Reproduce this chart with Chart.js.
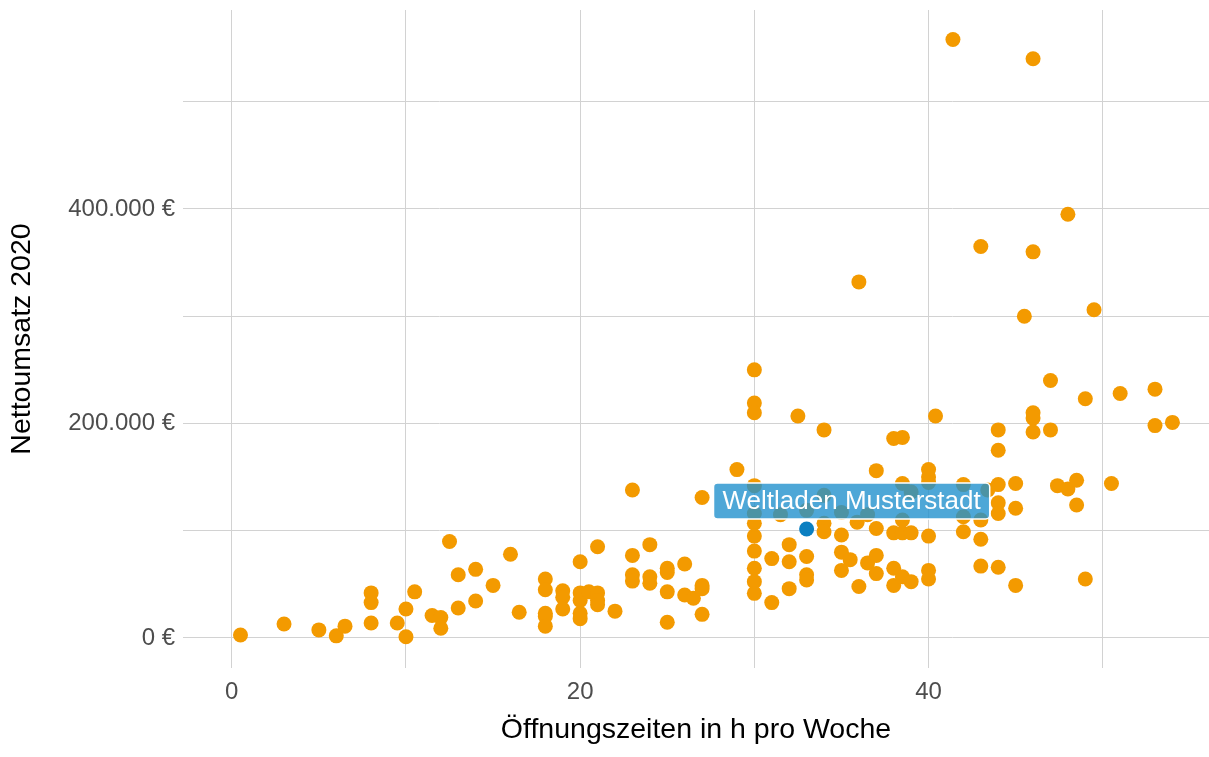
<!DOCTYPE html>
<html lang="de">
<head>
<meta charset="utf-8">
<title>Nettoumsatz vs. Öffnungszeiten</title>
<script src="https://cdn.jsdelivr.net/npm/chart.js@4/dist/chart.umd.min.js"></script>
<style>
  html, body { margin: 0; padding: 0; background: #fff; }
  #wrap { width: 1209px; height: 757px; }
</style>
</head>
<body>
<div id="wrap"><canvas id="chart" width="1209" height="757"></canvas></div>
<script>
// Öffnungszeiten (h pro Woche) der übrigen Läden
const hours = [
  0.5, 3, 5, 6, 6.5, 8, 8, 8, 9.5, 10, 10, 10.5, 11.5, 12, 12, 12.5, 13, 13, 14, 14,
  15, 16, 16.5, 18, 18, 18, 18, 18, 19, 19, 19, 20, 20, 20, 20, 20, 20.5, 21, 21, 21,
  21, 22, 23, 23, 23, 23, 24, 24, 24, 25, 25, 25, 25, 26, 26, 26.5, 27, 27, 27, 27,
  29, 30, 30, 30, 30, 30, 30, 30, 30, 30, 30, 30, 31, 31, 31.5, 32, 32, 32, 32.5, 33,
  33, 33, 33, 34, 34, 34, 34, 35, 35, 35, 35, 35.5, 35.9, 36, 36.5, 36, 36.5, 37, 37, 37,
  37, 38, 38.5, 38, 38.5, 39, 38.5, 38.5, 39, 38, 38, 38.5, 39, 40, 40, 40, 40, 40, 40,
  40.4, 41.4, 42, 42, 42, 43, 43, 43, 43, 43.4, 44, 44, 44, 44, 44, 44, 45, 45, 45, 45.5,
  46, 46, 46, 46, 46, 47, 47, 47.4, 48, 48, 48.5, 48.5, 49, 49, 49.5, 50.5, 51, 53, 53, 54
];
// Nettoumsatz 2020 in Euro, gleiche Reihenfolge
const revenue = [
  2800, 13000, 7500, 2000, 11000, 42000, 33000, 14000, 14000, 27000, 1200, 43000, 21000, 19000, 9000, 90000, 59000, 28000, 64000, 34500,
  49000, 78000, 24000, 55000, 45000, 23000, 20000, 11000, 44000, 38000, 27000, 71000, 42000, 35000, 23000, 18000, 43000, 42000, 35000, 31000,
  85000, 25000, 77000, 59000, 53000, 138000, 87000, 57000, 51000, 65000, 61000, 43000, 14600, 69000, 40000, 37000, 49000, 46000, 22000, 131000,
  157000, 250000, 219000, 210000, 142000, 116000, 107000, 95000, 81000, 65000, 52500, 41600, 74000, 33000, 115000, 87000, 71000, 46000, 207000, 119000,
  76000, 59000, 54000, 194000, 133000, 107000, 99000, 117000, 96000, 80000, 63000, 73000, 108000, 332000, 115000, 48000, 70000, 156000, 102000, 77000,
  60000, 186000, 187000, 98000, 98000, 98000, 144000, 110000, 136000, 65000, 49000, 57000, 52500, 157000, 150000, 145000, 95000, 63000, 55000,
  207000, 558000, 143000, 113000, 99000, 365000, 110000, 92000, 67000, 138000, 194000, 175000, 143000, 126000, 116000, 66000, 144000, 121000, 49000, 300000,
  540000, 360000, 210000, 205000, 192000, 240000, 194000, 142000, 395000, 139000, 147000, 124000, 223000, 55000, 306000, 144000, 228000, 232000, 198000, 201000
];
// der hervorgehobene Laden
const ownName = 'Weltladen Musterstadt';
const ownHours = [33];
const ownRevenue = [101600];

// Gitterlinien alle 10 h / 100.000 €, Beschriftung nur jede zweite Linie
const xGrid = [0, 10, 20, 30, 40, 50];
const yGrid = [0, 100000, 200000, 300000, 400000, 500000];
const xTickLabels = [0, 20, 40];
const yTickLabels = [0, 200000, 400000];

const others = hours.map((h, i) => ({ x: h, y: revenue[i] }));
const own = ownHours.map((h, i) => ({ x: h, y: ownRevenue[i] }));

function euro(v) {
  return String(Math.round(v)).replace(/\B(?=(\d{3})+(?!\d))/g, '.') + ' €';
}

// Beschriftung des eigenen Ladens als Kasten über dem Punkt
const labelPlugin = {
  id: 'ownLabel',
  afterDatasetsDraw(chart) {
    const { ctx, scales } = chart;
    const px = scales.x.getPixelForValue(ownHours[0]);
    const py = scales.y.getPixelForValue(ownRevenue[0]);
    ctx.save();
    ctx.font = '26px "Liberation Sans", Arial, sans-serif';
    const w = ctx.measureText(ownName).width + 18;
    const h = 36;
    const cx = px + 45;
    const cy = py - 28;
    const left = cx - w / 2;
    const top = cy - h / 2;
    ctx.beginPath();
    ctx.roundRect(left, top, w, h, 4);
    ctx.fillStyle = 'rgba(34,145,205,0.8)';
    ctx.fill();
    ctx.lineWidth = 1.5;
    ctx.strokeStyle = '#ffffff';
    ctx.stroke();
    ctx.fillStyle = '#ffffff';
    ctx.textAlign = 'center';
    ctx.textBaseline = 'middle';
    ctx.fillText(ownName, cx, cy + 1);
    ctx.restore();
  }
};

const tickFont = { family: '"Liberation Sans", Arial, sans-serif', size: 24 };
const titleFont = { family: '"Liberation Sans", Arial, sans-serif', size: 28.5 };

new Chart(document.getElementById('chart'), {
  type: 'scatter',
  data: {
    datasets: [
      {
        label: ownName,
        data: own,
        pointRadius: 7.5,
        pointBackgroundColor: '#0b7fc1',
        pointBorderWidth: 0,
      },
      {
        label: 'andere Läden',
        data: others,
        pointRadius: 7.5,
        pointBackgroundColor: '#f39a00',
        pointBorderWidth: 0,
      },
    ],
  },
  options: {
    responsive: false,
    animation: false,
    layout: { autoPadding: false, padding: { top: 10, right: 0, left: 0, bottom: 0 } },
    plugins: {
      legend: { display: false },
      tooltip: { enabled: false },
    },
    scales: {
      x: {
        type: 'linear',
        min: -2.8,
        max: 56.1,
        border: { display: false },
        grid: { color: '#d2d2d2', lineWidth: 1, drawTicks: false },
        afterBuildTicks: (scale) => { scale.ticks = xGrid.map((v) => ({ value: v })); },
        ticks: {
          padding: 10,
          color: '#4d4d4d',
          font: tickFont,
          callback: (v) => (xTickLabels.includes(v) ? String(v) : ''),
        },
        title: {
          display: true,
          text: 'Öffnungszeiten in h pro Woche',
          color: '#000000',
          font: titleFont,
          padding: { top: 0, bottom: 10 },
        },
        afterFit: (scale) => {
          scale.height = 89;
          scale.paddingLeft = 0;
          scale.paddingRight = 0;
        },
      },
      y: {
        type: 'linear',
        min: -28000,
        max: 585500,
        border: { display: false },
        grid: { color: '#d2d2d2', lineWidth: 1, drawTicks: false },
        afterBuildTicks: (scale) => { scale.ticks = yGrid.map((v) => ({ value: v })); },
        ticks: {
          padding: 8,
          color: '#4d4d4d',
          font: tickFont,
          callback: (v) => (yTickLabels.includes(v) ? euro(v) : ''),
        },
        title: {
          display: true,
          text: 'Nettoumsatz 2020',
          color: '#000000',
          font: titleFont,
          padding: { top: 5, bottom: 0 },
        },
        afterFit: (scale) => {
          scale.width = 183;
          scale.paddingTop = 0;
          scale.paddingBottom = 0;
        },
      },
    },
  },
  plugins: [labelPlugin],
});
</script>
</body>
</html>
